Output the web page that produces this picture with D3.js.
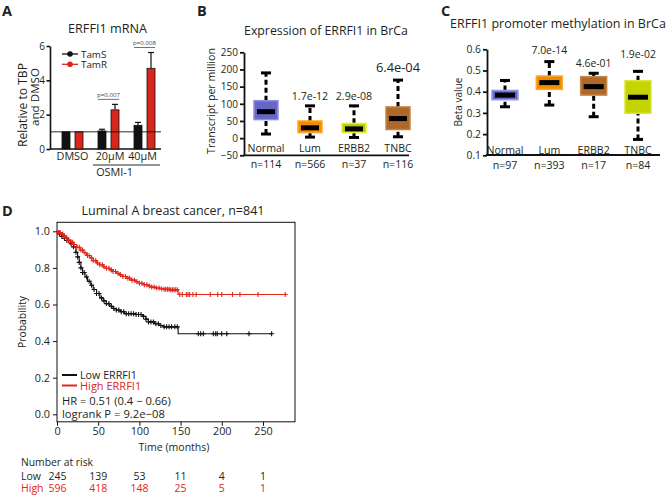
<!DOCTYPE html>
<html><head><meta charset="utf-8">
<script src="https://cdn.jsdelivr.net/npm/d3@7"></script>
<style>body{margin:0;background:#fff} svg{display:block} text{font-family:"Open Sans",sans-serif;fill:#231f20}</style>
</head><body><svg id="c" width="668" height="495"></svg>
<script>
// ---------- Panel A data ----------
const aGroups = ["DMSO","20µM","40µM"];
const aSeries = ["TamS","TamR"];
const aTamS = [1.0, 1.05, 1.38];
const aTamSErr = [0, 0.1, 0.17];
const aTamR = [1.0, 2.28, 4.7];
const aTamRErr = [0, 0.32, 0.92];
const aTicks = [0,2,4,6];
const aPvals = [null, "p=0.007", "p=0.008"];
const aColors = ["#111111","#d9261c"];

// ---------- Panel B data ----------
const bCats = ["Normal","Lum","ERBB2","TNBC"];
const bN = ["n=114","n=566","n=37","n=116"];
const bMin = [12, 3, 2, 4];
const bQ1 = [54, 16, 16, 25];
const bMed = [77, 30, 27, 57];
const bQ3 = [109, 50, 43, 91];
const bMax = [190, 94, 94, 169];
const bP = [null,"1.7e-12","2.9e-08","6.4e-04"];
const bTicks = [-50,0,50,100,150,200,250];
const bFill = ["#6666c6","#f08c00","#b8cc00","#ad682a"];
const bStroke = ["#8e8ee0","#ffa733","#e2f23a","#c58747"];

// ---------- Panel C data ----------
const cCats = ["Normal","Lum","ERBB2","TNBC"];
const cN = ["n=97","n=393","n=17","n=84"];
const cMin = [0.329, 0.337, 0.282, 0.175];
const cQ1 = [0.362, 0.411, 0.384, 0.298];
const cMed = [0.384, 0.443, 0.424, 0.374];
const cQ3 = [0.406, 0.474, 0.471, 0.452];
const cMax = [0.453, 0.542, 0.487, 0.496];
const cP = [null,"7.0e-14","4.6e-01","1.9e-02"];
const cTicks = [0.1,0.2,0.3,0.4,0.5,0.6];
const cFill = ["#6666c6","#f08c00","#ad682a","#c4d400"];
const cStroke = ["#9a9ae6","#ffa733","#c58747","#dbe83a"];

// ---------- Panel D data ----------
const dLowSteps = [[0,1.0],[3,0.985],[6,0.972],[9,0.962],[12,0.95],[16,0.932],[20,0.915],[23,0.885],[25,0.86],[27,0.83],[29,0.8],[31,0.775],[34,0.75],[37,0.727],[41,0.705],[44,0.682],[48,0.66],[52,0.636],[56,0.62],[60,0.605],[64,0.59],[68,0.578],[72,0.57],[77,0.56],[82,0.55],[95,0.545],[104,0.535],[108,0.52],[111,0.505],[118,0.495],[124,0.485],[129,0.478],[147,0.44]];
const dLowEnd = 261;
const dHighSteps = [[0,1.0],[2,0.993],[5,0.985],[8,0.975],[11,0.963],[14,0.952],[17,0.94],[20,0.928],[24,0.913],[28,0.898],[32,0.883],[36,0.868],[40,0.854],[44,0.84],[48,0.827],[52,0.817],[56,0.807],[60,0.798],[64,0.789],[68,0.78],[72,0.771],[76,0.762],[80,0.753],[85,0.743],[90,0.733],[95,0.725],[100,0.716],[105,0.708],[110,0.701],[115,0.695],[120,0.69],[125,0.686],[130,0.683],[138,0.68],[147,0.655]];
const dHighEnd = 277;
const dLowCensor = [3,6,9,12,14,17,20,23,25,27,29,31,33,36,39,42,45,48,51,54,57,60,63,66,69,72,75,78,81,84,87,90,93,96,99,102,105,108,111,114,117,120,123,126,130,133,136,139,143,146,171.5,174.4,177.6,189.7,192.6,194.5,199.9,206,233,260.5];
const dHighCensor = [2,4,7,9,12,14,17,19,21,24,27,29,31,34,37,39,42,44,47,49,52,55,57,60,63,66,68,71,74,77,80,83,86,88,91,94,97,100,103,106,109,112,115,118,121,124,127,130,132,134,136,138,140,142,144,146,149,152,157,159,161,165,169,186,195,200,213,222,244,277];
const dXTicks = [0,50,100,150,200,250];
const dYTicks = [0,0.2,0.4,0.6,0.8,1.0];
const dRiskTimes = [0,50,100,150,200,250];
const dRiskLow = [245,139,53,11,4,1];
const dRiskHigh = [596,418,148,25,5,1];
const dRed = "#e2261c";

const svg = d3.select("#c");
svg.append("rect").attr("width",668).attr("height",495).attr("fill","#fff");

function txt(g,x,y,s,opt={}){
  const t=g.append("text").attr("x",x).attr("y",y).text(s)
    .attr("font-size",opt.size||11).attr("text-anchor",opt.anchor||"start");
  if(opt.weight) t.attr("font-weight",opt.weight);
  if(opt.fill) t.style("fill",opt.fill);
  if(opt.rotate) t.attr("transform",`rotate(-90,${x},${y})`);
  if(opt.fit){ const L=t.node().getComputedTextLength(); if(L>0) t.attr("font-size",(opt.size||11)*opt.fit/L); }
  return t;
}
function styleAxis(a,w,fs){
  a.select(".domain").attr("stroke","#111").attr("stroke-width",w);
  a.selectAll(".tick line").attr("stroke","#111").attr("stroke-width",w);
  a.selectAll(".tick text").attr("font-size",fs).attr("font-family","Open Sans, sans-serif").style("fill","#231f20");
}

// panel letters
txt(svg,2,16,"A",{size:14.5,weight:"bold"});
txt(svg,197,16,"B",{size:14.5,weight:"bold"});
txt(svg,441,16,"C",{size:14.5,weight:"bold"});
txt(svg,2,216,"D",{size:14.5,weight:"bold"});

// ================= Panel A =================
{
  const g = svg.append("g");
  const y = d3.scaleLinear().domain([0,6]).range([149,46]);
  const x = d3.scaleBand().domain(aGroups).range([54,162]).padding(0);
  const xs = d3.scaleBand().domain(aSeries).range([8,29]).paddingInner(0.385);
  txt(g,107.5,33,"ERFFI1 mRNA",{size:12.5,anchor:"middle",fit:79});
  const ax = g.append("g").attr("transform","translate(50,0)")
    .call(d3.axisLeft(y).tickValues(aTicks).tickFormat(d3.format("d")).tickSize(3.5).tickSizeOuter(0).tickPadding(1.5));
  styleAxis(ax,1.6,10);
  g.append("line").attr("x1",50).attr("x2",161).attr("y1",y(0)).attr("y2",y(0)).attr("stroke","#111").attr("stroke-width",1.6);
  const vals=[aTamS,aTamR], errs=[aTamSErr,aTamRErr];
  aSeries.forEach((s,si)=>{
    aGroups.forEach((grp,gi)=>{
      const bx = x(grp)+xs(s), bw = xs.bandwidth();
      g.append("rect").attr("x",bx).attr("y",y(vals[si][gi])).attr("width",bw)
        .attr("height",y(0)-y(vals[si][gi])).attr("fill",aColors[si]).attr("stroke","#111").attr("stroke-width",0.8);
      if(errs[si][gi]>0){
        const cx=bx+bw/2, top=y(vals[si][gi]+errs[si][gi]);
        g.append("line").attr("x1",cx).attr("x2",cx).attr("y1",y(vals[si][gi])).attr("y2",top).attr("stroke","#111").attr("stroke-width",1.2);
        g.append("line").attr("x1",cx-3).attr("x2",cx+3).attr("y1",top).attr("y2",top).attr("stroke","#111").attr("stroke-width",1.2);
      }
    });
  });
  g.append("line").attr("x1",50).attr("x2",161).attr("y1",y(1)).attr("y2",y(1)).attr("stroke","#111").attr("stroke-width",0.9);
  aGroups.forEach((grp,gi)=>{
    if(!aPvals[gi]) return;
    const x1=x(grp)+xs("TamS"), x2=x(grp)+xs("TamR")+xs.bandwidth();
    const top=y(Math.max(aTamS[gi]+aTamSErr[gi],aTamR[gi]+aTamRErr[gi]))-5;
    g.append("line").attr("x1",x1).attr("x2",x2).attr("y1",top).attr("y2",top).attr("stroke","#333").attr("stroke-width",0.7);
    txt(g,(x1+x2)/2,top-2.5,aPvals[gi],{size:6.3,anchor:"middle",fill:"#444",fit:23});
  });
  const labX=[72.5,110,142.5];
  aGroups.forEach((grp,gi)=>txt(g,labX[gi],160,grp,{size:10.8,anchor:"middle"}));
  g.append("line").attr("x1",93).attr("x2",160).attr("y1",165).attr("y2",165).attr("stroke","#111").attr("stroke-width",0.9);
  txt(g,114.5,176,"OSMI-1",{size:10.8,anchor:"middle"});
  txt(g,26.5,105,"Relative to TBP",{size:10.8,anchor:"middle",rotate:true,fit:84});
  txt(g,38.5,97,"and DMSO",{size:10.8,anchor:"middle",rotate:true,fit:58});
  const ly=[54,64.3];
  aSeries.forEach((s,si)=>{
    g.append("line").attr("x1",62).attr("x2",78).attr("y1",ly[si]).attr("y2",ly[si]).attr("stroke",aColors[si]).attr("stroke-width",1.3);
    g.append("circle").attr("cx",70).attr("cy",ly[si]).attr("r",2.8).attr("fill",aColors[si]);
    txt(g,81,ly[si]+3.5,s,{size:9.8});
  });
}

// ================= Box plot helper =================
function boxes(g,cats,mins,q1,med,q3,max,fills,strokes,x,y,w){
  cats.forEach((c,i)=>{
    const cx=x(c);
    [[mins[i],q1[i]],[q3[i],max[i]]].forEach(([a,b])=>{
      g.append("line").attr("x1",cx).attr("x2",cx).attr("y1",y(a)).attr("y2",y(b))
        .attr("stroke","#000").attr("stroke-width",3).attr("stroke-dasharray","5,3");
    });
    [mins[i],max[i]].forEach(v=>{
      g.append("line").attr("x1",cx-5).attr("x2",cx+5).attr("y1",y(v)).attr("y2",y(v)).attr("stroke","#000").attr("stroke-width",3);
    });
    g.append("rect").attr("x",cx-w/2).attr("y",y(q3[i])).attr("width",w).attr("height",y(q1[i])-y(q3[i]))
      .attr("fill",fills[i]).attr("stroke",strokes[i]).attr("stroke-width",1.5);
    g.append("rect").attr("x",cx-w/2+3).attr("y",y(med[i])-2.5).attr("width",w-6).attr("height",5).attr("fill","#000");
  });
}

// ================= Panel B =================
{
  const g = svg.append("g");
  const y = d3.scaleLinear().domain([-50,250]).range([155.3,52.3]);
  const x = d3.scalePoint().domain(bCats).range([266,398]);
  txt(g,326,35,"Expression of ERRFI1 in BrCa",{size:13,anchor:"middle",fit:164});
  const ax = g.append("g").attr("transform","translate(244,0)")
    .call(d3.axisLeft(y).tickValues(bTicks).tickSize(4).tickSizeOuter(0).tickPadding(2));
  styleAxis(ax,1.8,10);
  g.append("line").attr("x1",243).attr("x2",409).attr("y1",155.3).attr("y2",155.3).attr("stroke","#111").attr("stroke-width",1.8);
  boxes(g,bCats,bMin,bQ1,bMed,bQ3,bMax,bFill,bStroke,x,y,24);
  bCats.forEach((c,i)=>{
    txt(g,x(c),152,c,{size:10.6,anchor:"middle"});
    txt(g,x(c),168,bN[i],{size:10.6,anchor:"middle"});
    if(bP[i]) txt(g,x(c),y(bMax[i])-(i===3?8:6),bP[i],{size:i===3?12.8:10.6,anchor:"middle"});
  });
  txt(g,215,101,"Transcript per million",{size:11.5,anchor:"middle",rotate:true,fit:106});
}

// ================= Panel C =================
{
  const g = svg.append("g");
  const y = d3.scaleLinear().domain([0.1,0.6]).range([155.3,49.3]);
  const x = d3.scalePoint().domain(cCats).range([505,638]);
  txt(g,450,28,"ERFFI1 promoter methylation in BrCa",{size:13,fit:216});
  const ax = g.append("g").attr("transform","translate(487,0)")
    .call(d3.axisLeft(y).tickValues(cTicks).tickFormat(d3.format(".1f")).tickSize(4).tickSizeOuter(0).tickPadding(2));
  styleAxis(ax,1.8,10.3);
  g.append("line").attr("x1",486).attr("x2",660).attr("y1",155).attr("y2",155).attr("stroke","#111").attr("stroke-width",1.8);
  boxes(g,cCats,cMin,cQ1,cMed,cQ3,cMax,cFill,cStroke,x,y,26);
  const pOff=[0,8,6,13];
  cCats.forEach((c,i)=>{
    txt(g,x(c),154,c,{size:10.6,anchor:"middle"});
    txt(g,x(c),169,cN[i],{size:10.6,anchor:"middle"});
    if(cP[i]) txt(g,x(c),y(cMax[i])-pOff[i],cP[i],{size:10.4,anchor:"middle"});
  });
  txt(g,462,102,"Beta value",{size:11.2,anchor:"middle",rotate:true,fit:49});
}

// ================= Panel D =================
{
  const g = svg.append("g");
  const x = d3.scaleLinear().domain([0,288]).range([57,294.3]);
  const y = d3.scaleLinear().domain([0,1]).range([414.3,231.3]);
  txt(g,173,215,"Luminal A breast cancer, n=841",{size:12.5,anchor:"middle",fit:183});
  g.append("rect").attr("x",57).attr("y",222.3).attr("width",238).attr("height",199.5).attr("fill","none").attr("stroke","#111").attr("stroke-width",1);
  const ay = g.append("g").attr("transform","translate(57,0)")
    .call(d3.axisLeft(y).tickValues(dYTicks).tickFormat(d3.format(".1f")).tickSize(4).tickSizeOuter(0).tickPadding(3));
  styleAxis(ay,1,10.8); ay.select(".domain").remove();
  const axx = g.append("g").attr("transform","translate(0,421.8)")
    .call(d3.axisBottom(x).tickValues(dXTicks).tickSize(4).tickSizeOuter(0).tickPadding(2));
  styleAxis(axx,1,10.8); axx.select(".domain").remove();
  txt(g,174,451,"Time (months)",{size:11.2,anchor:"middle",fit:71});
  txt(g,26,322,"Probability",{size:11.2,anchor:"middle",rotate:true,fit:52});

  function stepVal(steps,t){ let v=steps[0][1]; for(const s of steps){ if(s[0]<=t) v=s[1]; } return v; }
  const line = d3.line().x(d=>x(d[0])).y(d=>y(d[1])).curve(d3.curveStepAfter);
  [[dLowSteps,dLowEnd,dLowCensor,"#111"],[dHighSteps,dHighEnd,dHighCensor,dRed]].forEach(([st,end,cens,col])=>{
    const pts = st.concat([[end, st[st.length-1][1]]]);
    g.append("path").attr("d",line(pts)).attr("fill","none").attr("stroke",col).attr("stroke-width",1.1);
    cens.forEach(t=>{
      const cx=x(t), cy=y(stepVal(st,t));
      g.append("path").attr("d",`M${cx-2.5},${cy}H${cx+2.5}M${cx},${cy-2.5}V${cy+2.5}`).attr("stroke",col).attr("stroke-width",1.1);
    });
  });
  g.append("line").attr("x1",62).attr("x2",77).attr("y1",375).attr("y2",375).attr("stroke","#111").attr("stroke-width",2);
  txt(g,80,379,"Low ERRFI1",{size:11,fit:57});
  g.append("line").attr("x1",62).attr("x2",77).attr("y1",385.5).attr("y2",385.5).attr("stroke",dRed).attr("stroke-width",2);
  txt(g,80,389.5,"High ERRFI1",{size:11,fill:dRed});
  txt(g,62,405,"HR = 0.51 (0.4 \u2212 0.66)",{size:11,fit:109});
  txt(g,62,418,"logrank P = 9.2e\u221208",{size:11,fit:103});
  txt(g,21,466,"Number at risk",{size:10.5,fit:72});
  txt(g,21,480,"Low",{size:10.5});
  txt(g,21,492,"High",{size:10.5,fill:dRed});
  dRiskTimes.forEach((t,i)=>{
    const xx = i===0 ? x(t)+0.5 : x(t);
    txt(g,xx,480,String(dRiskLow[i]),{size:10.5,anchor:"middle"});
    txt(g,xx,492,String(dRiskHigh[i]),{size:10.5,anchor:"middle",fill:dRed});
  });
}
</script></body></html>
